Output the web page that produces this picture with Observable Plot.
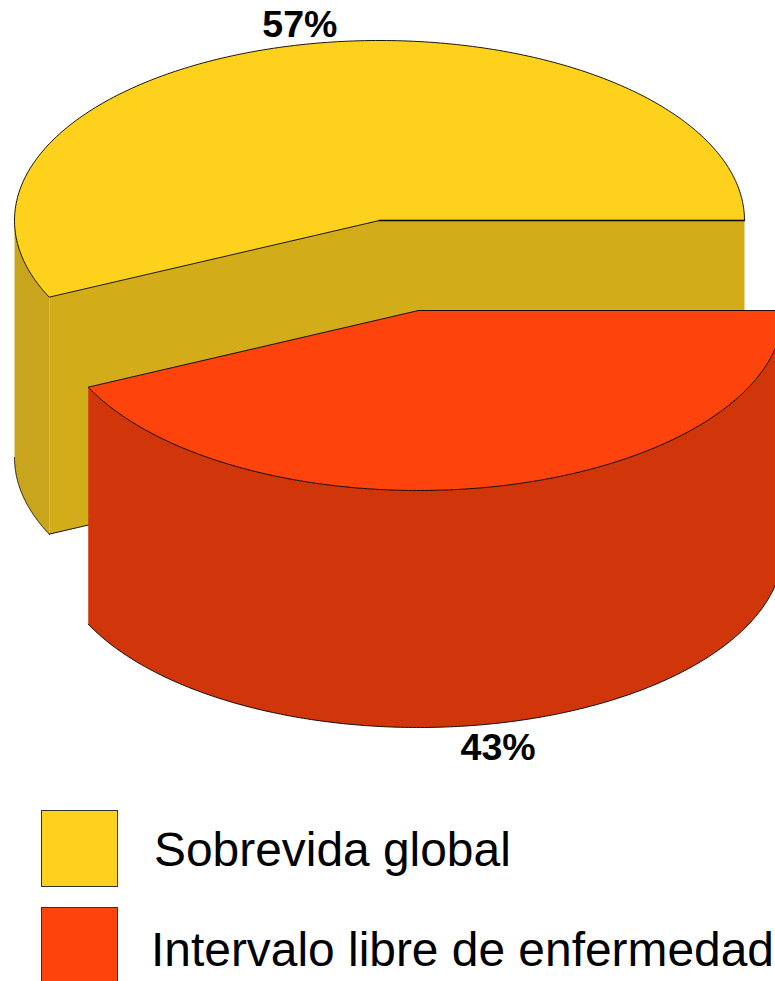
<!DOCTYPE html>
<html lang="es">
<head>
<meta charset="utf-8">
<script src="https://cdn.jsdelivr.net/npm/d3@7"></script>
<script src="https://cdn.jsdelivr.net/npm/@observablehq/plot@0.6"></script>
<style>
  html, body { margin: 0; padding: 0; background: #fff; overflow: hidden; }
  #page { position: relative; width: 775px; height: 981px; overflow: hidden; font-family: "Liberation Sans", Arial, sans-serif; }
  #chart svg { display: block; }
  .legend-row { position: absolute; left: 41px; white-space: nowrap; color: #000; font-size: 47.9px; }
  .swatch { width: 75px; height: 75px; border: 1px solid #333; box-sizing: content-box; }
  .legend-row span { position: absolute; line-height: 56px; }
</style>
</head>
<body>
<div id="page"><div id="chart"></div></div>
<script>
// Survival percentages and the legend labels for each slice.
const categories = ["Sobrevida global", "Intervalo libre de enfermedad"];
const shares = [57, 43];
const shareLabels = ["57%", "43%"];

const topColors = ["#fed11c", "#ff430d"];
const faceColors = ["#d3ac1a", "#d1360a"];
const wallColor = "#c8a51c";

// Pie drawn in an oblique view: an ellipse for the lid and a vertical extrusion.
const radiusX = 365, radiusY = 180, depth = 237;
const centers = [{x: 379, y: 220}, {x: 418, y: 310}]; // second slice is pulled out
const plotHeight = 790;

// Angles run counter-clockwise from the right-hand edge of the pie.
const bounds = d3.cumsum([0, ...shares]).map((v) => (v / d3.sum(shares)) * 2 * Math.PI);

const onRim = (c, t, drop = 0) => ({
  x: c.x + radiusX * Math.cos(t),
  y: c.y - radiusY * Math.sin(t) + drop
});
const arc = (c, t0, t1, drop = 0) =>
  d3.range(0, 241).map((i) => onRim(c, t0 + ((t1 - t0) * i) / 240, drop));

const surface = (points, fill) =>
  Plot.line([...points, points[0]], {x: "x", y: "y", fill, stroke: "none", curve: "linear"});
const edge = (points, strokeWidth = 1, opacity = 0.9) =>
  Plot.line(points, {x: "x", y: "y", stroke: "#000", strokeWidth, strokeOpacity: opacity, curve: "linear"});

const [a0, a1, a2] = bounds;
const yc = centers[0], rc = centers[1];
const labelFont = "Liberation Sans, Arial, sans-serif";

const marks = [
  // First slice: outer wall on the left, the cut face as one piece, then the lid.
  surface([...arc(yc, Math.PI, a1), ...arc(yc, a1, Math.PI, depth)], wallColor),
  surface([
    onRim(yc, a1), {...yc}, onRim(yc, a0),
    onRim(yc, a0, depth), {x: yc.x, y: yc.y + depth}, onRim(yc, a1, depth)
  ], faceColors[0]),
  edge(arc(yc, Math.PI, a1, depth)),
  edge([onRim(yc, a1, depth), {x: yc.x, y: yc.y + depth}]),
  surface([{...yc}, ...arc(yc, a0, a1)], topColors[0]),
  edge([{...yc}, ...arc(yc, a0, a1), {...yc}]),
  edge([{...yc}, onRim(yc, a0)], 2, 0.55),

  // Second slice: outer wall, then the lid.
  surface([...arc(rc, a1, a2), ...arc(rc, a2, a1, depth)], faceColors[1]),
  edge(arc(rc, a1, a2, depth)),
  surface([{...rc}, ...arc(rc, a1, a2)], topColors[1]),
  edge([{...rc}, ...arc(rc, a1, a2), {...rc}]),

  // Percentage labels sit at each slice's mid-angle, just outside the rim.
  Plot.text(
    [{...onRim(yc, (a0 + a1) / 2), label: shareLabels[0]}],
    {x: "x", y: "y", text: "label", dy: -20, fontSize: 37.5, fontWeight: "bold", fill: "#000", fontFamily: labelFont}
  ),
  Plot.text(
    [{...onRim(rc, (a1 + a2) / 2, depth), label: shareLabels[1]}],
    {x: "x", y: "y", text: "label", dy: 25, fontSize: 37.5, fontWeight: "bold", fill: "#000", fontFamily: labelFont}
  )
];

const plot = Plot.plot({
  width: 775,
  height: plotHeight,
  margin: 0,
  x: {domain: [0, 775], range: [0, 775], axis: null},
  y: {domain: [0, plotHeight], range: [0, plotHeight], axis: null},
  style: {background: "transparent", overflow: "hidden"},
  marks
});
document.getElementById("chart").append(plot);

// Legend under the plot.
const page = document.getElementById("page");
const legendTops = [810, 907];
const legendTextLeft = [113, 110];
const legendTextTop = [12, 15];
categories.forEach((name, i) => {
  const row = document.createElement("div");
  row.className = "legend-row";
  row.style.top = legendTops[i] + "px";
  const swatch = document.createElement("div");
  swatch.className = "swatch";
  swatch.style.background = topColors[i];
  const text = document.createElement("span");
  text.textContent = name;
  text.style.left = legendTextLeft[i] + "px";
  text.style.top = legendTextTop[i] + "px";
  row.append(swatch, text);
  page.append(row);
});
</script>
</body>
</html>
